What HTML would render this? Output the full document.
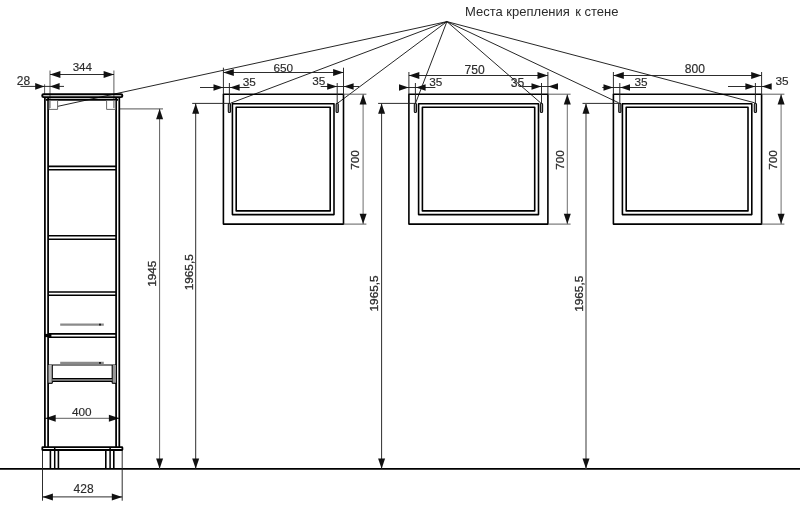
<!DOCTYPE html>
<html lang="ru">
<head>
<meta charset="utf-8">
<title>Места крепления к стене</title>
<style>
html,body{margin:0;padding:0;background:#fff;}
body{width:800px;height:517px;overflow:hidden;}
svg{display:block;font-family:"Liberation Sans",sans-serif;filter:blur(0.3px);}
</style>
</head>
<body>
<svg width="800" height="517" viewBox="0 0 800 517">
<rect x="0" y="0" width="800" height="517" fill="#fff"/>
<line x1="0" y1="468.8" x2="800" y2="468.8" stroke="#000" stroke-width="1.7" />
<line x1="446.9" y1="21.6" x2="57.5" y2="106.4" stroke="#1a1a1a" stroke-width="0.95" />
<line x1="446.9" y1="21.6" x2="230.5" y2="103.2" stroke="#1a1a1a" stroke-width="0.95" />
<line x1="446.9" y1="21.6" x2="337.6" y2="103.2" stroke="#1a1a1a" stroke-width="0.95" />
<line x1="446.9" y1="21.6" x2="415.6" y2="103.1" stroke="#1a1a1a" stroke-width="0.95" />
<line x1="446.9" y1="21.6" x2="540.9" y2="103.1" stroke="#1a1a1a" stroke-width="0.95" />
<line x1="446.9" y1="21.6" x2="618.7" y2="102.8" stroke="#1a1a1a" stroke-width="0.95" />
<line x1="446.9" y1="21.6" x2="754.7" y2="102.8" stroke="#1a1a1a" stroke-width="0.95" />
<text x="465" y="16.4" font-size="13" fill="#2b2b2b">Места крепления <tspan dx="1.8">к стене</tspan></text>
<line x1="50" y1="70.5" x2="50" y2="108" stroke="#555" stroke-width="0.95" />
<line x1="113.9" y1="70.5" x2="113.9" y2="108" stroke="#555" stroke-width="0.95" />
<line x1="50" y1="74.5" x2="114" y2="74.5" stroke="#222" stroke-width="0.95" />
<polygon points="50.00,74.50 60.40,71.00 60.40,78.00" fill="#111"/>
<polygon points="114.00,74.50 103.60,71.00 103.60,78.00" fill="#111"/>
<text x="82.3" y="70.9" font-size="11.6" text-anchor="middle" fill="#2b2b2b" stroke="#2b2b2b" stroke-width="0.15">344</text>
<line x1="44.6" y1="84.3" x2="44.6" y2="94" stroke="#555" stroke-width="0.95" />
<line x1="20.5" y1="86.4" x2="64" y2="86.4" stroke="#222" stroke-width="0.95" />
<polygon points="44.40,86.40 35.20,83.10 35.20,89.70" fill="#111"/>
<polygon points="50.00,86.40 59.60,83.10 59.60,89.70" fill="#111"/>
<text x="23.5" y="85.1" font-size="12" text-anchor="middle" fill="#2b2b2b" stroke="#2b2b2b" stroke-width="0.15">28</text>
<line x1="45" y1="418.3" x2="119.5" y2="418.3" stroke="#555" stroke-width="0.95" />
<polygon points="45.30,418.30 55.70,414.80 55.70,421.80" fill="#111"/>
<polygon points="119.30,418.30 108.90,414.80 108.90,421.80" fill="#111"/>
<text x="81.8" y="415.8" font-size="11.8" text-anchor="middle" fill="#2b2b2b" stroke="#2b2b2b" stroke-width="0.15">400</text>
<line x1="42.5" y1="450" x2="42.5" y2="500.7" stroke="#222" stroke-width="0.95" />
<line x1="122.2" y1="450" x2="122.2" y2="500.7" stroke="#222" stroke-width="0.95" />
<line x1="42.5" y1="496.9" x2="122.2" y2="496.9" stroke="#222" stroke-width="0.95" />
<polygon points="42.50,496.90 52.90,493.40 52.90,500.40" fill="#111"/>
<polygon points="122.20,496.90 111.80,493.40 111.80,500.40" fill="#111"/>
<text x="83.6" y="492.9" font-size="12" text-anchor="middle" fill="#2b2b2b" stroke="#2b2b2b" stroke-width="0.15">428</text>
<line x1="120" y1="108.8" x2="163" y2="108.8" stroke="#777" stroke-width="1.2" />
<line x1="159.6" y1="108.8" x2="159.6" y2="468.8" stroke="#555" stroke-width="0.95" />
<polygon points="159.60,108.80 156.10,119.20 163.10,119.20" fill="#111"/>
<polygon points="159.60,468.80 156.10,458.40 163.10,458.40" fill="#111"/>
<text x="156.5" y="273.7" font-size="11.8" text-anchor="middle" fill="#2b2b2b" stroke="#2b2b2b" stroke-width="0.3" transform="rotate(-90 156.5 273.7)">1945</text>
<rect x="223.40" y="94.20" width="120.10" height="129.90" rx="0" fill="none" stroke="#000" stroke-width="1.6" stroke-linejoin="round"/>
<rect x="232.40" y="103.70" width="101.60" height="110.90" rx="0" fill="none" stroke="#000" stroke-width="1.6" stroke-linejoin="round"/>
<rect x="236.20" y="107.20" width="94.00" height="103.70" rx="0" fill="none" stroke="#000" stroke-width="1.6" stroke-linejoin="round"/>
<rect x="228.30" y="103.30" width="2.20" height="9.20" rx="1.1" fill="#999" stroke="#111" stroke-width="1.1" stroke-linejoin="round"/>
<rect x="336.10" y="103.30" width="2.20" height="9.20" rx="1.1" fill="#999" stroke="#111" stroke-width="1.1" stroke-linejoin="round"/>
<line x1="223.4" y1="67.7" x2="223.4" y2="94.2" stroke="#222" stroke-width="0.95" />
<line x1="343.5" y1="67.7" x2="343.5" y2="94.2" stroke="#222" stroke-width="0.95" />
<line x1="223.4" y1="72.5" x2="343.5" y2="72.5" stroke="#222" stroke-width="0.95" />
<polygon points="223.40,72.50 233.80,69.00 233.80,76.00" fill="#111"/>
<polygon points="343.50,72.50 333.10,69.00 333.10,76.00" fill="#111"/>
<text x="283.25" y="71.9" font-size="11.8" text-anchor="middle" fill="#2b2b2b" stroke="#2b2b2b" stroke-width="0.15">650</text>
<line x1="229.4" y1="83" x2="229.4" y2="103" stroke="#222" stroke-width="0.95" />
<line x1="200" y1="87.5" x2="249.5" y2="87.5" stroke="#222" stroke-width="0.95" />
<polygon points="223.10,87.50 213.50,84.20 213.50,90.80" fill="#111"/>
<polygon points="230.00,87.50 239.60,84.20 239.60,90.80" fill="#111"/>
<text x="249.25" y="85.6" font-size="11.8" text-anchor="middle" fill="#2b2b2b" stroke="#2b2b2b" stroke-width="0.15">35</text>
<line x1="337.2" y1="83" x2="337.2" y2="103" stroke="#222" stroke-width="0.95" />
<line x1="320.7" y1="86.5" x2="359.2" y2="86.5" stroke="#222" stroke-width="0.95" />
<polygon points="337.00,86.50 327.20,83.20 327.20,89.80" fill="#111"/>
<polygon points="343.80,86.50 353.60,83.20 353.60,89.80" fill="#111"/>
<text x="318.85" y="84.7" font-size="11.8" text-anchor="middle" fill="#2b2b2b" stroke="#2b2b2b" stroke-width="0.15">35</text>
<line x1="343.5" y1="94.2" x2="366.40000000000003" y2="94.2" stroke="#555" stroke-width="0.95" />
<line x1="343.5" y1="224.1" x2="366.40000000000003" y2="224.1" stroke="#555" stroke-width="0.95" />
<line x1="363.1" y1="94.2" x2="363.1" y2="224.1" stroke="#666" stroke-width="0.95" />
<polygon points="363.10,94.20 359.60,104.60 366.60,104.60" fill="#111"/>
<polygon points="363.10,224.10 359.60,213.70 366.60,213.70" fill="#111"/>
<text x="359.2" y="160" font-size="11.8" text-anchor="middle" fill="#2b2b2b" stroke="#2b2b2b" stroke-width="0.3" transform="rotate(-90 359.2 160)">700</text>
<line x1="192.2" y1="103.4" x2="229.4" y2="103.4" stroke="#222" stroke-width="0.95" />
<line x1="195.7" y1="103.4" x2="195.7" y2="468.8" stroke="#222" stroke-width="0.95" />
<polygon points="195.70,103.40 192.20,113.80 199.20,113.80" fill="#111"/>
<polygon points="195.70,468.80 192.20,458.40 199.20,458.40" fill="#111"/>
<text x="192.9" y="272.3" font-size="11.8" text-anchor="middle" fill="#2b2b2b" stroke="#2b2b2b" stroke-width="0.3" transform="rotate(-90 192.9 272.3)">1965,5</text>
<rect x="408.90" y="94.20" width="139.00" height="129.90" rx="0" fill="none" stroke="#000" stroke-width="1.6" stroke-linejoin="round"/>
<rect x="418.60" y="103.70" width="119.90" height="110.90" rx="0" fill="none" stroke="#000" stroke-width="1.6" stroke-linejoin="round"/>
<rect x="422.40" y="107.20" width="112.30" height="103.70" rx="0" fill="none" stroke="#000" stroke-width="1.6" stroke-linejoin="round"/>
<rect x="414.30" y="103.30" width="2.20" height="9.20" rx="1.1" fill="#999" stroke="#111" stroke-width="1.1" stroke-linejoin="round"/>
<rect x="540.40" y="103.30" width="2.20" height="9.20" rx="1.1" fill="#999" stroke="#111" stroke-width="1.1" stroke-linejoin="round"/>
<line x1="408.9" y1="72" x2="408.9" y2="94.2" stroke="#222" stroke-width="0.95" />
<line x1="547.9" y1="72" x2="547.9" y2="94.2" stroke="#222" stroke-width="0.95" />
<line x1="408.9" y1="75.5" x2="547.9" y2="75.5" stroke="#222" stroke-width="0.95" />
<polygon points="408.90,75.50 419.30,72.00 419.30,79.00" fill="#111"/>
<polygon points="547.90,75.50 537.50,72.00 537.50,79.00" fill="#111"/>
<text x="474.7" y="73.8" font-size="12.1" text-anchor="middle" fill="#2b2b2b" stroke="#2b2b2b" stroke-width="0.15">750</text>
<line x1="415.4" y1="83" x2="415.4" y2="103" stroke="#222" stroke-width="0.95" />
<line x1="400" y1="87.5" x2="435.4" y2="87.5" stroke="#222" stroke-width="0.95" />
<polygon points="408.60,87.50 399.00,84.20 399.00,90.80" fill="#111"/>
<polygon points="416.00,87.50 425.60,84.20 425.60,90.80" fill="#111"/>
<text x="435.8" y="85.6" font-size="11.8" text-anchor="middle" fill="#2b2b2b" stroke="#2b2b2b" stroke-width="0.15">35</text>
<line x1="541.5" y1="83" x2="541.5" y2="103" stroke="#222" stroke-width="0.95" />
<line x1="522.5" y1="86.5" x2="557" y2="86.5" stroke="#222" stroke-width="0.95" />
<polygon points="541.30,86.50 531.50,83.20 531.50,89.80" fill="#111"/>
<polygon points="548.20,86.50 558.00,83.20 558.00,89.80" fill="#111"/>
<text x="517.6" y="86.9" font-size="12.2" text-anchor="middle" fill="#2b2b2b" stroke="#2b2b2b" stroke-width="0.15">35</text>
<line x1="547.9" y1="94.2" x2="570.5999999999999" y2="94.2" stroke="#555" stroke-width="0.95" />
<line x1="547.9" y1="224.1" x2="570.5999999999999" y2="224.1" stroke="#555" stroke-width="0.95" />
<line x1="567.3" y1="94.2" x2="567.3" y2="224.1" stroke="#666" stroke-width="0.95" />
<polygon points="567.30,94.20 563.80,104.60 570.80,104.60" fill="#111"/>
<polygon points="567.30,224.10 563.80,213.70 570.80,213.70" fill="#111"/>
<text x="564" y="160" font-size="11.8" text-anchor="middle" fill="#2b2b2b" stroke="#2b2b2b" stroke-width="0.3" transform="rotate(-90 564 160)">700</text>
<line x1="378.1" y1="103.4" x2="415.4" y2="103.4" stroke="#222" stroke-width="0.95" />
<line x1="381.6" y1="103.4" x2="381.6" y2="468.8" stroke="#222" stroke-width="0.95" />
<polygon points="381.60,103.40 378.10,113.80 385.10,113.80" fill="#111"/>
<polygon points="381.60,468.80 378.10,458.40 385.10,458.40" fill="#111"/>
<text x="378.2" y="293.4" font-size="11.8" text-anchor="middle" fill="#2b2b2b" stroke="#2b2b2b" stroke-width="0.3" transform="rotate(-90 378.2 293.4)">1965,5</text>
<rect x="613.40" y="94.20" width="148.20" height="129.90" rx="0" fill="none" stroke="#000" stroke-width="1.6" stroke-linejoin="round"/>
<rect x="622.40" y="103.70" width="129.40" height="110.90" rx="0" fill="none" stroke="#000" stroke-width="1.6" stroke-linejoin="round"/>
<rect x="626.20" y="107.20" width="121.80" height="103.70" rx="0" fill="none" stroke="#000" stroke-width="1.6" stroke-linejoin="round"/>
<rect x="618.70" y="103.30" width="2.20" height="9.20" rx="1.1" fill="#999" stroke="#111" stroke-width="1.1" stroke-linejoin="round"/>
<rect x="754.30" y="103.30" width="2.20" height="9.20" rx="1.1" fill="#999" stroke="#111" stroke-width="1.1" stroke-linejoin="round"/>
<line x1="613.4" y1="72" x2="613.4" y2="94.2" stroke="#222" stroke-width="0.95" />
<line x1="761.6" y1="72" x2="761.6" y2="94.2" stroke="#222" stroke-width="0.95" />
<line x1="613.4" y1="75.5" x2="761.6" y2="75.5" stroke="#222" stroke-width="0.95" />
<polygon points="613.40,75.50 623.80,72.00 623.80,79.00" fill="#111"/>
<polygon points="761.60,75.50 751.20,72.00 751.20,79.00" fill="#111"/>
<text x="694.8" y="72.8" font-size="12.1" text-anchor="middle" fill="#2b2b2b" stroke="#2b2b2b" stroke-width="0.15">800</text>
<line x1="619.8" y1="83" x2="619.8" y2="103" stroke="#222" stroke-width="0.95" />
<line x1="602.3" y1="87.5" x2="646" y2="87.5" stroke="#222" stroke-width="0.95" />
<polygon points="613.10,87.50 603.50,84.20 603.50,90.80" fill="#111"/>
<polygon points="620.40,87.50 630.00,84.20 630.00,90.80" fill="#111"/>
<text x="641.1" y="85.6" font-size="11.8" text-anchor="middle" fill="#2b2b2b" stroke="#2b2b2b" stroke-width="0.15">35</text>
<line x1="755.4" y1="83" x2="755.4" y2="103" stroke="#222" stroke-width="0.95" />
<line x1="728" y1="86.5" x2="771" y2="86.5" stroke="#222" stroke-width="0.95" />
<polygon points="755.20,86.50 745.40,83.20 745.40,89.80" fill="#111"/>
<polygon points="761.90,86.50 771.70,83.20 771.70,89.80" fill="#111"/>
<text x="782.05" y="84.6" font-size="11.8" text-anchor="middle" fill="#2b2b2b" stroke="#2b2b2b" stroke-width="0.15">35</text>
<line x1="761.6" y1="94.2" x2="784.4" y2="94.2" stroke="#555" stroke-width="0.95" />
<line x1="761.6" y1="224.1" x2="784.4" y2="224.1" stroke="#555" stroke-width="0.95" />
<line x1="781.1" y1="94.2" x2="781.1" y2="224.1" stroke="#666" stroke-width="0.95" />
<polygon points="781.10,94.20 777.60,104.60 784.60,104.60" fill="#111"/>
<polygon points="781.10,224.10 777.60,213.70 784.60,213.70" fill="#111"/>
<text x="777" y="160" font-size="11.8" text-anchor="middle" fill="#2b2b2b" stroke="#2b2b2b" stroke-width="0.3" transform="rotate(-90 777 160)">700</text>
<line x1="582.5" y1="103.4" x2="619.8" y2="103.4" stroke="#222" stroke-width="0.95" />
<line x1="586.0" y1="103.4" x2="586.0" y2="468.8" stroke="#666" stroke-width="1.3" />
<polygon points="586.00,103.40 582.50,113.80 589.50,113.80" fill="#111"/>
<polygon points="586.00,468.80 582.50,458.40 589.50,458.40" fill="#111"/>
<text x="582.8" y="293.8" font-size="11.8" text-anchor="middle" fill="#2b2b2b" stroke="#2b2b2b" stroke-width="0.3" transform="rotate(-90 582.8 293.8)">1965,5</text>
<rect x="42.20" y="94.30" width="80.20" height="2.85" rx="1.4" fill="none" stroke="#000" stroke-width="1.9" stroke-linejoin="round"/>
<line x1="46" y1="99.8" x2="118" y2="99.8" stroke="#000" stroke-width="1.9" />
<line x1="44.9" y1="97.4" x2="44.9" y2="447" stroke="#000" stroke-width="1.75" />
<line x1="48.1" y1="97.4" x2="48.1" y2="447" stroke="#000" stroke-width="1.75" />
<line x1="116.1" y1="97.4" x2="116.1" y2="447" stroke="#000" stroke-width="1.75" />
<line x1="119.3" y1="97.4" x2="119.3" y2="447" stroke="#000" stroke-width="1.75" />
<rect x="49.00" y="100.50" width="8.60" height="8.90" rx="0" fill="none" stroke="#6a6a6a" stroke-width="1.0" stroke-linejoin="round"/>
<rect x="106.60" y="100.50" width="8.80" height="8.90" rx="0" fill="none" stroke="#6a6a6a" stroke-width="1.0" stroke-linejoin="round"/>
<line x1="48" y1="166.4" x2="116" y2="166.4" stroke="#000" stroke-width="1.6" />
<line x1="48" y1="169.7" x2="116" y2="169.7" stroke="#000" stroke-width="1.6" />
<line x1="48" y1="235.8" x2="116" y2="235.8" stroke="#000" stroke-width="1.6" />
<line x1="48" y1="239.2" x2="116" y2="239.2" stroke="#000" stroke-width="1.6" />
<line x1="48" y1="292" x2="116" y2="292" stroke="#000" stroke-width="1.6" />
<line x1="48" y1="295.3" x2="116" y2="295.3" stroke="#000" stroke-width="1.6" />
<line x1="48" y1="333.9" x2="116" y2="333.9" stroke="#000" stroke-width="1.6" />
<line x1="48" y1="337.20000000000005" x2="116" y2="337.20000000000005" stroke="#000" stroke-width="1.6" />
<rect x="44.90" y="333.90" width="6.50" height="3.20" rx="0" fill="#000" stroke="none" stroke-width="0" stroke-linejoin="round"/>
<line x1="60.2" y1="324.6" x2="103.8" y2="324.6" stroke="#8a8a8a" stroke-width="2.1" />
<rect x="99.10" y="323.70" width="1.80" height="1.80" rx="0" fill="#111" stroke="none" stroke-width="0" stroke-linejoin="round"/>
<line x1="60.2" y1="362.9" x2="103.8" y2="362.9" stroke="#8a8a8a" stroke-width="2.1" />
<rect x="99.10" y="362.00" width="1.80" height="1.80" rx="0" fill="#111" stroke="none" stroke-width="0" stroke-linejoin="round"/>
<line x1="48" y1="365" x2="116" y2="365" stroke="#000" stroke-width="1.1" />
<rect x="48.50" y="365.00" width="3.50" height="18.00" rx="0" fill="#bbb" stroke="none" stroke-width="0" stroke-linejoin="round"/>
<rect x="112.40" y="365.00" width="3.50" height="18.00" rx="0" fill="#999" stroke="none" stroke-width="0" stroke-linejoin="round"/>
<line x1="52.3" y1="365" x2="52.3" y2="383.3" stroke="#000" stroke-width="1.1" />
<line x1="112.2" y1="365" x2="112.2" y2="383.3" stroke="#000" stroke-width="1.1" />
<line x1="48" y1="383.3" x2="52.3" y2="383.3" stroke="#000" stroke-width="1.1" />
<line x1="112.2" y1="383.3" x2="116" y2="383.3" stroke="#000" stroke-width="1.1" />
<rect x="52.30" y="378.80" width="60.00" height="2.60" rx="0" fill="#999" stroke="none" stroke-width="0" stroke-linejoin="round"/>
<line x1="52.3" y1="378.7" x2="112.2" y2="378.7" stroke="#000" stroke-width="1.3" />
<line x1="52.3" y1="381.4" x2="112.2" y2="381.4" stroke="#000" stroke-width="1.3" />
<rect x="42.30" y="447.20" width="80.10" height="2.80" rx="0.5" fill="none" stroke="#000" stroke-width="1.8" stroke-linejoin="round"/>
<line x1="50.4" y1="450.3" x2="50.4" y2="468.5" stroke="#000" stroke-width="1.6" />
<line x1="54.699999999999996" y1="447" x2="54.699999999999996" y2="468.5" stroke="#000" stroke-width="1.5" />
<line x1="58.4" y1="450.3" x2="58.4" y2="468.5" stroke="#000" stroke-width="1.6" />
<line x1="105.8" y1="450.3" x2="105.8" y2="468.5" stroke="#000" stroke-width="1.6" />
<line x1="110.1" y1="447" x2="110.1" y2="468.5" stroke="#000" stroke-width="1.5" />
<line x1="113.8" y1="450.3" x2="113.8" y2="468.5" stroke="#000" stroke-width="1.6" />
</svg>
</body>
</html>
